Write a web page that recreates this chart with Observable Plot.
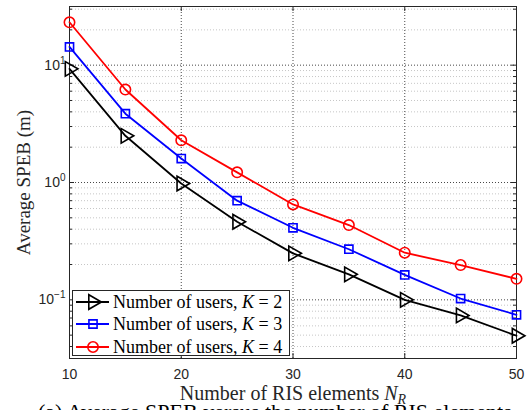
<!DOCTYPE html>
<html><head><meta charset="utf-8">
<script src="https://cdn.jsdelivr.net/npm/d3@7"></script>
<script src="https://cdn.jsdelivr.net/npm/@observablehq/plot@0.6"></script>
<style>
body{margin:0;background:#fff;overflow:hidden}
#wrap{position:relative;width:530px;height:410px;overflow:hidden;background:#fff}
#chart svg{display:block}
#legend{position:absolute;left:72px;top:290px;width:216px;height:64px;border:1px solid #262626;background:#fff;font-family:"Liberation Serif",serif;font-size:18px;color:#000}
.row{position:absolute;left:0;width:216px;height:22px}
.row svg{position:absolute;left:0;top:0}
.row span{position:absolute;left:40px;top:0px;line-height:22px;white-space:nowrap}
#caption{position:absolute;left:38px;top:404px;font-family:"Liberation Serif",serif;font-size:22px;line-height:16px;white-space:nowrap;color:#000}
</style></head><body>
<div id="wrap"><div id="chart"></div><div id="legend"></div><div id="caption">(a) Average SPEB versus the number of RIS elements</div></div>
<script>
// ---- data ----
const nR = [10, 15, 20, 25, 30, 35, 40, 45, 50];
const spebK2 = [9.3, 2.5, 0.98, 0.463, 0.249, 0.165, 0.100, 0.0736, 0.0494];
const spebK3 = [14.3, 3.86, 1.6, 0.70, 0.411, 0.27, 0.163, 0.1026, 0.0745];
const spebK4 = [23.2, 6.2, 2.29, 1.22, 0.65, 0.434, 0.252, 0.198, 0.151];
const seriesNames = ["Number of users, K = 2", "Number of users, K = 3", "Number of users, K = 4"];
const seriesColors = ["#000000", "#0000ff", "#ff0000"];
const seriesSymbols = ["triangle", "square", "circle"];
const xTicks = [10, 20, 30, 40, 50];
const xGrid = [20, 30, 40];
const yDecades = [0.1, 1, 10];
const yDecadeLabels = ["10^-1", "10^0", "10^1"];
const yMinor = [0.04,0.05,0.06,0.07,0.08,0.09,0.2,0.3,0.4,0.5,0.6,0.7,0.8,0.9,2,3,4,5,6,7,8,9,20,30];
const xLabel = "Number of RIS elements N_R";
const yLabel = "Average SPEB (m)";

const W = 530, H = 398, mL = 69, mR = 14, mT = 6, mB = 40;
const pW = W - mL - mR, pH = H - mT - mB;
const allSeries = [spebK2, spebK3, spebK4];
const rows = allSeries.map((vals, i) => nR.map((n, j) => ({n, v: vals[j], k: i})));

const axisColor = "#262626";
const marks = [
  Plot.ruleY(yMinor, {y: d => d, stroke: "#b8b8b8", strokeDasharray: "1,2", strokeWidth: 0.8}),
  Plot.ruleY(yDecades, {y: d => d, stroke: "#333", strokeDasharray: "1,2", strokeWidth: 0.9}),
  Plot.ruleX(xGrid, {x: d => d, stroke: "#333", strokeDasharray: "1,2", strokeWidth: 0.9}),
  // ticks
  Plot.ruleX(xTicks, {x: d => d, insetTop: pH - 5, stroke: axisColor}),
  Plot.ruleX(xTicks, {x: d => d, insetBottom: pH - 5, stroke: axisColor}),
  Plot.ruleY(yDecades, {y: d => d, insetRight: pW - 5, stroke: axisColor}),
  Plot.ruleY(yDecades, {y: d => d, insetLeft: pW - 5, stroke: axisColor}),
  Plot.ruleY(yMinor, {y: d => d, insetRight: pW - 3, stroke: axisColor}),
  Plot.ruleY(yMinor, {y: d => d, insetLeft: pW - 3, stroke: axisColor}),
  Plot.frame({stroke: axisColor, strokeWidth: 1}),
  // tick labels
  Plot.text(xTicks, {x: d => d, text: d => String(d), frameAnchor: "bottom", lineAnchor: "middle", textAnchor: "middle", dy: 16, fontSize: 14, fill: axisColor, fontFamily: "Liberation Sans"}),
  Plot.text(yDecades, {y: d => d, text: (d, i) => yDecadeLabels[i], frameAnchor: "left", lineAnchor: "middle", dx: -4, textAnchor: "end", fontSize: 14, fill: axisColor, fontFamily: "Liberation Sans"}),
  // axis labels
  Plot.text([xLabel], {text: d => d, frameAnchor: "bottom", lineAnchor: "middle", textAnchor: "middle", dy: 35, fontSize: 20, fill: axisColor, fontFamily: "Liberation Serif"}),
  Plot.text([yLabel], {text: d => d, frameAnchor: "left", lineAnchor: "middle", textAnchor: "middle", dx: -46, rotate: -90, fontSize: 19, fill: axisColor, fontFamily: "Liberation Serif"})
];
rows.forEach((data, i) => {
  marks.push(Plot.line(data, {x: "n", y: "v", stroke: seriesColors[i], strokeWidth: 1.8}));
  marks.push(Plot.dot(data, {x: "n", y: "v", symbol: seriesSymbols[i], rotate: i === 0 ? 90 : 0,
    r: i === 0 ? 5.4 : (i === 1 ? 4.6 : 5.2), stroke: seriesColors[i], fill: "none", strokeWidth: 1.6}));
});

const chart = Plot.plot({
  width: W, height: H, marginLeft: mL, marginRight: mR, marginTop: mT, marginBottom: mB,
  x: {domain: [10, 50], axis: null},
  y: {type: "log", domain: [10 ** -1.5, 10 ** 1.5], axis: null},
  style: {background: "#fff", overflow: "visible"},
  marks
});
document.getElementById("chart").appendChild(chart);

// superscripts / subscripts
d3.select(chart).selectAll("text").each(function() {
  const t = d3.select(this);
  const s = this.textContent;
  const m = /^10\^(-?\d+)$/.exec(s);
  if (m) {
    t.text(null);
    t.append("tspan").text("10");
    t.append("tspan").attr("dy", "-6").attr("font-size", "10").text(m[1].replace("-", "\u2212"));
  } else if (s === xLabel) {
    t.text(null);
    t.append("tspan").text("Number of RIS elements ");
    t.append("tspan").attr("font-style", "italic").text("N");
    t.append("tspan").attr("font-style", "italic").attr("font-size", "14").attr("dy", "4").text("R");
  }
});

// legend
const leg = document.getElementById("legend");
seriesNames.forEach((name, i) => {
  const row = document.createElement("div");
  row.className = "row";
  row.style.top = (i * 22.3) + "px";
  const sym = d3.symbol(i === 0 ? d3.symbolTriangle : (i === 1 ? d3.symbolSquare : d3.symbolCircle),
    Math.PI * (i === 0 ? 5.4 : (i === 1 ? 4.6 : 5.2)) ** 2)();
  row.innerHTML = `<svg width="40" height="22"><line x1="3" x2="36" y1="11" y2="11" stroke="${seriesColors[i]}" stroke-width="1.8"/>` +
    `<path d="${sym}" transform="translate(20,11) rotate(${i === 0 ? 90 : 0})" fill="none" stroke="${seriesColors[i]}" stroke-width="1.6"/></svg>` +
    `<span>${name.replace("K", "<i>K</i>")}</span>`;
  leg.appendChild(row);
});
</script>
</body></html>
